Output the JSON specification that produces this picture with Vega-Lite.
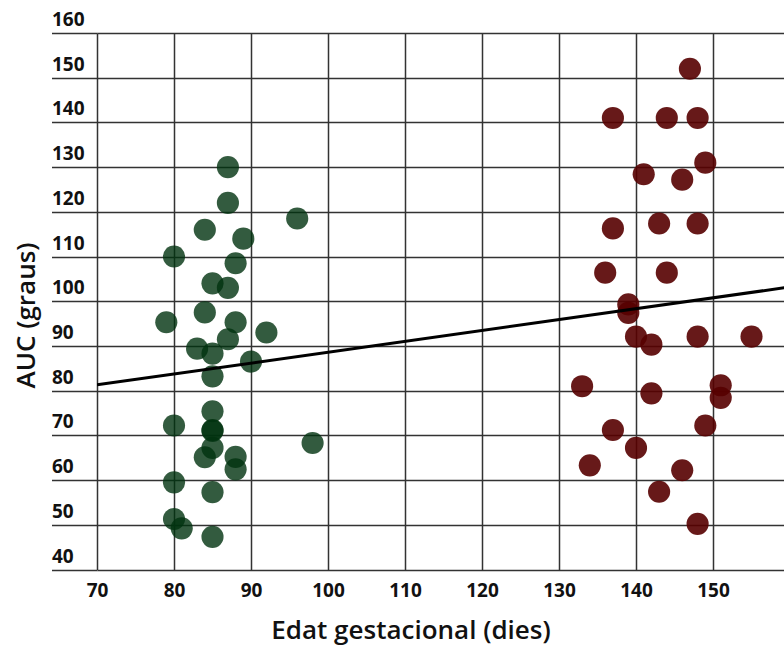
{
  "$schema": "https://vega.github.io/schema/vega-lite/v6.json",
  "width": 687,
  "height": 536.5,
  "autosize": {"type": "none"},
  "padding": {"left": 97, "top": 33, "right": 0, "bottom": 75.5},
  "background": "white",
  "config": {
    "view": {"stroke": null},
    "axis": {
      "gridColor": "#333333",
      "gridWidth": 1.5,
      "gridOpacity": 1,
      "tickColor": "#333333",
      "tickWidth": 1.5,
      "domain": false,
      "labelFont": "Open Sans",
      "labelFontSize": 19,
      "labelFontWeight": 700,
      "labelColor": "#111",
      "labelFlush": false,
      "titleFont": "Open Sans",
      "titleColor": "#111"
    }
  },
  "datasets": {
    "groups": [
      {"edat": 87, "auc": 130, "grup": "A"},
      {"edat": 87, "auc": 122, "grup": "A"},
      {"edat": 96, "auc": 118.5, "grup": "A"},
      {"edat": 84, "auc": 116, "grup": "A"},
      {"edat": 89, "auc": 114, "grup": "A"},
      {"edat": 80, "auc": 110, "grup": "A"},
      {"edat": 88, "auc": 108.5, "grup": "A"},
      {"edat": 85, "auc": 104, "grup": "A"},
      {"edat": 87, "auc": 103, "grup": "A"},
      {"edat": 84, "auc": 97.5, "grup": "A"},
      {"edat": 79, "auc": 95.3, "grup": "A"},
      {"edat": 88, "auc": 95.3, "grup": "A"},
      {"edat": 92, "auc": 93, "grup": "A"},
      {"edat": 87, "auc": 91.5, "grup": "A"},
      {"edat": 83, "auc": 89.4, "grup": "A"},
      {"edat": 85, "auc": 88.3, "grup": "A"},
      {"edat": 90, "auc": 86.5, "grup": "A"},
      {"edat": 85, "auc": 83.2, "grup": "A"},
      {"edat": 85, "auc": 75.4, "grup": "A"},
      {"edat": 80, "auc": 72.2, "grup": "A"},
      {"edat": 85, "auc": 71.2, "grup": "A"},
      {"edat": 85, "auc": 71, "grup": "A"},
      {"edat": 85, "auc": 67.2, "grup": "A"},
      {"edat": 84, "auc": 65.1, "grup": "A"},
      {"edat": 88, "auc": 65.2, "grup": "A"},
      {"edat": 88, "auc": 62.4, "grup": "A"},
      {"edat": 98, "auc": 68.3, "grup": "A"},
      {"edat": 80, "auc": 59.5, "grup": "A"},
      {"edat": 85, "auc": 57.3, "grup": "A"},
      {"edat": 80, "auc": 51.3, "grup": "A"},
      {"edat": 81, "auc": 49.2, "grup": "A"},
      {"edat": 85, "auc": 47.3, "grup": "A"},
      {"edat": 147, "auc": 152, "grup": "B"},
      {"edat": 137, "auc": 141, "grup": "B"},
      {"edat": 144, "auc": 141, "grup": "B"},
      {"edat": 148, "auc": 141, "grup": "B"},
      {"edat": 149, "auc": 131, "grup": "B"},
      {"edat": 141, "auc": 128.4, "grup": "B"},
      {"edat": 146, "auc": 127.2, "grup": "B"},
      {"edat": 137, "auc": 116.3, "grup": "B"},
      {"edat": 143, "auc": 117.4, "grup": "B"},
      {"edat": 148, "auc": 117.4, "grup": "B"},
      {"edat": 136, "auc": 106.4, "grup": "B"},
      {"edat": 144, "auc": 106.4, "grup": "B"},
      {"edat": 139, "auc": 99.3, "grup": "B"},
      {"edat": 139, "auc": 97.4, "grup": "B"},
      {"edat": 140, "auc": 92.1, "grup": "B"},
      {"edat": 142, "auc": 90.3, "grup": "B"},
      {"edat": 148, "auc": 92.1, "grup": "B"},
      {"edat": 155, "auc": 92.1, "grup": "B"},
      {"edat": 133, "auc": 81, "grup": "B"},
      {"edat": 142, "auc": 79.4, "grup": "B"},
      {"edat": 151, "auc": 81.2, "grup": "B"},
      {"edat": 151, "auc": 78.4, "grup": "B"},
      {"edat": 137, "auc": 71.2, "grup": "B"},
      {"edat": 149, "auc": 72.2, "grup": "B"},
      {"edat": 140, "auc": 67.2, "grup": "B"},
      {"edat": 134, "auc": 63.3, "grup": "B"},
      {"edat": 146, "auc": 62.2, "grup": "B"},
      {"edat": 143, "auc": 57.4, "grup": "B"},
      {"edat": 148, "auc": 50.2, "grup": "B"}
    ],
    "tendencia": [
      {"edat": 70, "auc": 81.3},
      {"edat": 160, "auc": 103.2}
    ]
  },
  "layer": [
    {
      "data": {"name": "groups"},
      "mark": {"type": "circle", "size": 490, "stroke": null},
      "encoding": {
        "x": {
          "field": "edat",
          "type": "quantitative",
          "scale": {"domain": [70, 159.22], "nice": false, "zero": false},
          "axis": {
            "values": [70, 80, 90, 100, 110, 120, 130, 140, 150],
            "ticks": false,
            "labelPadding": 26.5,
            "labelBaseline": "alphabetic",
            "title": "Edat gestacional (dies)",
            "titleFontSize": 26,
            "titleFontWeight": 600,
            "titleX": 313.5,
            "titleY": 68.5,
            "titleAlign": "center",
            "titleBaseline": "alphabetic"
          }
        },
        "y": {
          "field": "auc",
          "type": "quantitative",
          "scale": {"domain": [40, 160], "nice": false, "zero": false},
          "axis": {
            "values": [40, 50, 60, 70, 80, 90, 100, 110, 120, 130, 140, 150, 160],
            "tickSize": 45.5,
            "labelPadding": 0,
            "labelAlign": "left",
            "labelBaseline": "alphabetic",
            "labelOffset": -7.5,
            "title": "AUC (graus)",
            "titleFontSize": 26,
            "titleFontWeight": 600,
            "titleX": -63,
            "titleY": 282,
            "titleAlign": "center",
            "titleBaseline": "alphabetic",
            "titleAngle": -90
          }
        },
        "color": {
          "field": "grup",
          "type": "nominal",
          "scale": {"domain": ["A", "B"], "range": ["#00320f", "#560000"]},
          "legend": null
        },
        "opacity": {
          "field": "grup",
          "type": "nominal",
          "scale": {"domain": ["A", "B"], "range": [0.8, 0.9]},
          "legend": null
        }
      }
    },
    {
      "data": {"name": "tendencia"},
      "mark": {"type": "line", "color": "black", "strokeWidth": 3, "clip": true},
      "encoding": {
        "x": {"field": "edat", "type": "quantitative"},
        "y": {"field": "auc", "type": "quantitative"}
      }
    }
  ]
}
